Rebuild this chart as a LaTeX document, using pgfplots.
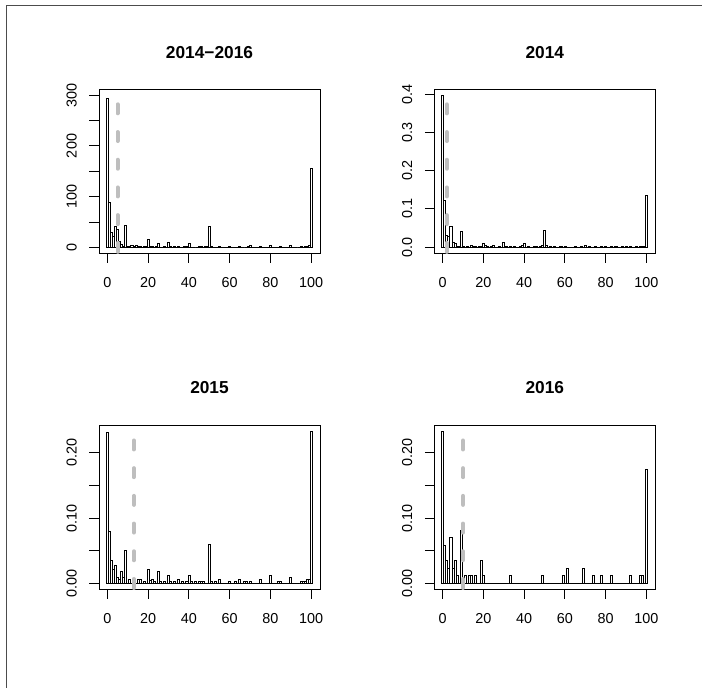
\documentclass[border=0pt]{standalone}
\usepackage{fontspec}
\setmainfont{Liberation Sans}
\usepackage{pgfplots}
\pgfplotsset{compat=1.18}
\usepackage{pgfplotstable}
\definecolor{rgrey}{RGB}{190,190,190}
\newcommand{\tickfont}{\fontsize{14.4}{14.4}\selectfont}
\newcommand{\titlefont}{\fontsize{17.3}{17.3}\selectfont\bfseries}

\pgfplotstableread{
x y
0 293
1 90
2 30
3 22
4 41
5 36
6 12
7 6
8 3
9 43
10 2
11 3
12 5
13 2
14 5
15 3
16 2
17 1
18 2
19 3
20 16
21 3
22 2
23 1
24 2
25 8
26 1
27 1
28 2
29 1
30 10
31 2
33 2
35 3
37 1
38 2
39 3
40 8
41 1
42 1
44 1
45 2
46 2
47 1
48 2
49 3
50 42
51 2
52 1
53 1
55 3
57 1
58 1
60 2
61 1
62 1
64 1
65 2
66 1
68 1
69 2
70 5
71 1
74 1
75 3
76 1
78 1
80 4
81 1
83 1
85 2
86 1
88 1
89 1
90 4
91 1
92 1
94 1
95 3
96 1
97 2
98 2
99 4
100 157
}\dataA

\pgfplotstableread{
x y
0 0.397
1 0.122
2 0.030
3 0.028
4 0.055
5 0.012
6 0.010
7 0.003
8 0.002
9 0.041
10 0.002
12 0.003
14 0.005
15 0.003
16 0.002
18 0.002
19 0.002
20 0.011
21 0.004
22 0.002
24 0.002
25 0.005
27 0.001
28 0.002
30 0.013
31 0.002
33 0.002
35 0.002
38 0.003
39 0.004
40 0.009
42 0.002
45 0.002
46 0.002
48 0.003
49 0.004
50 0.043
51 0.004
53 0.002
55 0.002
58 0.002
60 0.002
62 0.001
65 0.002
68 0.002
70 0.004
72 0.002
75 0.002
78 0.002
80 0.002
83 0.002
85 0.002
88 0.002
90 0.003
92 0.002
95 0.003
97 0.002
98 0.002
99 0.003
100 0.136
}\dataB

\pgfplotstableread{
x y
0 0.231
1 0.079
2 0.035
3 0.022
4 0.028
5 0.010
6 0.006
7 0.019
8 0.010
9 0.051
11 0.006
13 0.006
15 0.006
16 0.006
18 0.003
20 0.022
21 0.004
22 0.006
23 0.003
25 0.019
26 0.003
28 0.003
30 0.013
31 0.003
33 0.003
35 0.006
37 0.003
39 0.003
40 0.013
41 0.003
43 0.003
45 0.003
46 0.003
47 0.003
50 0.060
51 0.003
53 0.003
55 0.006
60 0.003
63 0.003
65 0.006
67 0.003
68 0.003
70 0.003
75 0.006
80 0.013
84 0.003
85 0.003
90 0.010
95 0.003
96 0.003
97 0.003
98 0.006
99 0.006
100 0.233
}\dataC

\pgfplotstableread{
x y
0 0.2326
1 0.0581
2 0.0349
3 0.0233
4 0.0698
5 0.0233
6 0.0349
7 0.0116
9 0.0814
11 0.0116
13 0.0116
14 0.0116
16 0.0116
19 0.0349
20 0.0116
33 0.0116
49 0.0116
59 0.0116
61 0.0233
69 0.0233
74 0.0116
78 0.0116
83 0.0116
92 0.0116
97 0.0116
98 0.0116
100 0.1744
}\dataD

\pgfplotsset{
  rpanel/.style={
    scale only axis, width=221pt, height=164pt,
    anchor=south west,
    xmin=-4.1, xmax=104.4,
    axis line style={line width=1pt},
    tick pos=left, tick align=outside,
    major tick length=9.5pt, minor tick length=9.5pt,
    every tick/.style={black, line width=1pt},
    xtick={0,20,40,60,80,100}, xticklabels={0,20,40,60,80,100},
    xticklabel style={font=\tickfont, anchor=base, yshift=-25pt},
    yticklabel style={font=\tickfont, xshift=-12.8pt, rotate=90, anchor=base},
    clip=true,
  },
  bars/.style={ybar, bar width=1, fill=white, draw=black, line width=0.6pt},
  base/.style={black, line width=0.7pt},
  med/.style={rgrey, line width=4pt, line cap=round, dash pattern=on 9pt off 18.7pt},
}

\begin{document}
\begin{tikzpicture}[x=1pt,y=1pt]
\useasboundingbox (0,0) rectangle (702,688);
\draw[line width=0.8pt, black!70] (6,0) -- (6,683) -- (702,683);

% 2014-2016
\begin{axis}[rpanel, at={(99pt,434.7pt)},
  ymin=-11.2, ymax=311.6,
  ytick={0,100,200,300}, yticklabels={0,100,200,300},
  minor ytick={50,150,250}]
\addplot[base] coordinates {(-0.5,0) (100.5,0)};
\addplot[bars] table[x=x,y=y] {\dataA};
\addplot[med] coordinates {(5,282) (5,-11.2)};
\end{axis}

% 2014
\begin{axis}[rpanel, at={(434.3pt,434.7pt)},
  ymin=-0.0159, ymax=0.4123,
  ytick={0,0.1,0.2,0.3,0.4}, yticklabels={0.0,0.1,0.2,0.3,0.4}]
\addplot[base] coordinates {(-0.5,0) (100.5,0)};
\addplot[bars] table[x=x,y=y] {\dataB};
\addplot[med] coordinates {(2,0.373) (2,-0.0159)};
\end{axis}

% 2015
\begin{axis}[rpanel, at={(99pt,98.6pt)},
  ymin=-0.0093, ymax=0.2421,
  ytick={0,0.1,0.2}, yticklabels={0.00,0.10,0.20},
  minor ytick={0.05,0.15}]
\addplot[base] coordinates {(-0.5,0) (100.5,0)};
\addplot[bars] table[x=x,y=y] {\dataC};
\addplot[med] coordinates {(13,0.219) (13,-0.0093)};
\end{axis}

% 2016
\begin{axis}[rpanel, at={(434.3pt,98.6pt)},
  ymin=-0.0093, ymax=0.2421,
  ytick={0,0.1,0.2}, yticklabels={0.00,0.10,0.20},
  minor ytick={0.05,0.15}]
\addplot[base] coordinates {(-0.5,0) (100.5,0)};
\addplot[bars] table[x=x,y=y] {\dataD};
\addplot[med] coordinates {(10,0.219) (10,-0.0093)};
\end{axis}

\node[font=\titlefont, anchor=base] at (209.5,629.8) {2014−2016};
\node[font=\titlefont, anchor=base] at (544.8,629.8) {2014};
\node[font=\titlefont, anchor=base] at (209.5,294) {2015};
\node[font=\titlefont, anchor=base] at (544.8,294) {2016};
\end{tikzpicture}
\end{document}
